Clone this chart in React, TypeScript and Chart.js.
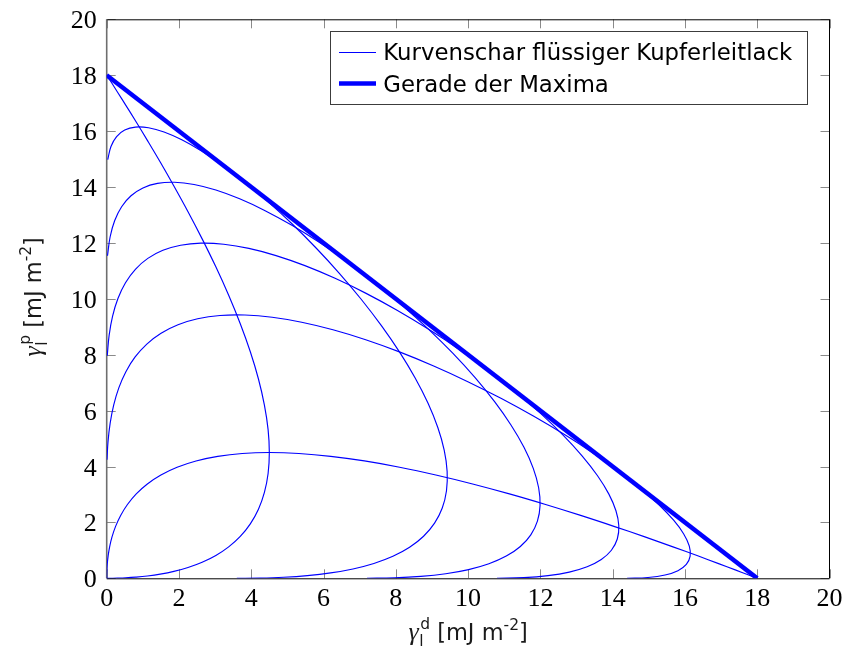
import React, { useEffect, useRef } from "react";
import { Chart, registerables } from "chart.js";

Chart.register(...registerables);

// ---- data (gamma_l^d, gamma_l^p) ----
const curveA: [number, number][] = [
  [0, 0], [0.034, 0], [0.136, 0.001], [0.301, 0.005], [0.526, 0.016], [0.804, 0.04],
  [1.125, 0.081], [1.481, 0.147], [1.859, 0.246], [2.25, 0.386], [2.641, 0.574], [3.02, 0.818],
  [3.375, 1.125], [3.696, 1.5], [3.974, 1.948], [4.199, 2.472], [4.364, 3.073], [4.466, 3.75],
  [4.5, 4.5], [4.466, 5.319], [4.364, 6.199], [4.199, 7.131], [3.974, 8.105], [3.696, 9.107],
  [3.375, 10.125], [3.02, 11.143], [2.641, 12.144], [2.25, 13.114], [1.859, 14.035],
  [1.481, 14.892], [1.125, 15.669], [0.804, 16.353], [0.526, 16.931], [0.301, 17.392],
  [0.136, 17.728], [0.034, 17.932], [0, 18],
];
const curveB: [number, number][] = [
  [3.6, 0], [4.24, 0.008], [4.895, 0.037], [5.551, 0.096], [6.196, 0.193], [6.814, 0.335],
  [7.393, 0.531], [7.919, 0.787], [8.381, 1.11], [8.768, 1.504], [9.072, 1.973], [9.285, 2.516],
  [9.402, 3.134], [9.42, 3.823], [9.34, 4.579], [9.162, 5.395], [8.892, 6.261], [8.535, 7.167],
  [8.1, 8.1], [7.596, 9.047], [7.036, 9.993], [6.431, 10.922], [5.794, 11.818], [5.141, 12.667],
  [4.484, 13.452], [3.837, 14.158], [3.213, 14.774], [2.623, 15.287], [2.078, 15.687],
  [1.587, 15.966], [1.157, 16.119], [0.793, 16.144], [0.499, 16.038], [0.274, 15.806],
  [0.118, 15.45], [0.029, 14.978],
];
const curveC: [number, number][] = [
  [7.2, 0], [7.96, 0.015], [8.692, 0.067], [9.381, 0.163], [10.013, 0.311], [10.576, 0.52],
  [11.056, 0.794], [11.446, 1.138], [11.735, 1.555], [11.918, 2.045], [11.991, 2.607],
  [11.952, 3.239], [11.803, 3.934], [11.546, 4.686], [11.186, 5.485], [10.733, 6.319],
  [10.194, 7.178], [9.582, 8.046], [8.909, 8.909], [8.189, 9.753], [7.436, 10.561],
  [6.665, 11.319], [5.89, 12.012], [5.125, 12.628], [4.384, 13.153], [3.679, 13.577],
  [3.021, 13.892], [2.418, 14.091], [1.877, 14.17], [1.405, 14.128], [1.003, 13.965],
  [0.673, 13.686], [0.413, 13.294], [0.222, 12.799], [0.094, 12.211], [0.022, 11.54],
];
const curveD: [number, number][] = [
  [0.015, 7.96], [0.067, 8.692], [0.163, 9.381], [0.311, 10.013], [0.52, 10.576], [0.794, 11.056],
  [1.138, 11.446], [1.555, 11.735], [2.045, 11.918], [2.607, 11.991], [3.239, 11.952],
  [3.934, 11.803], [4.686, 11.546], [5.485, 11.186], [6.319, 10.733], [7.178, 10.194],
  [8.046, 9.582], [8.909, 8.909], [9.753, 8.189], [10.561, 7.436], [11.319, 6.665],
  [12.012, 5.89], [12.628, 5.125], [13.153, 4.384], [13.577, 3.679], [13.892, 3.021],
  [14.091, 2.418], [14.17, 1.877], [14.128, 1.405], [13.965, 1.003], [13.686, 0.673],
  [13.294, 0.413], [12.799, 0.222], [12.211, 0.094], [11.54, 0.022], [10.8, 0],
];
const curveE: [number, number][] = [
  [0.008, 4.24], [0.037, 4.895], [0.096, 5.551], [0.193, 6.196], [0.335, 6.814], [0.531, 7.393],
  [0.787, 7.919], [1.11, 8.381], [1.504, 8.768], [1.973, 9.072], [2.516, 9.285], [3.134, 9.402],
  [3.823, 9.42], [4.579, 9.34], [5.395, 9.162], [6.261, 8.892], [7.167, 8.535], [8.1, 8.1],
  [9.047, 7.596], [9.993, 7.036], [10.922, 6.431], [11.818, 5.794], [12.667, 5.141],
  [13.452, 4.484], [14.158, 3.837], [14.774, 3.213], [15.287, 2.623], [15.687, 2.078],
  [15.966, 1.587], [16.119, 1.157], [16.144, 0.793], [16.038, 0.499], [15.806, 0.274],
  [15.45, 0.118], [14.978, 0.029], [14.4, 0],
];
const curveF: [number, number][] = [
  [0, 0], [0, 0.034], [0.001, 0.136], [0.005, 0.301], [0.016, 0.526], [0.04, 0.804],
  [0.081, 1.125], [0.147, 1.481], [0.246, 1.859], [0.386, 2.25], [0.574, 2.641], [0.818, 3.02],
  [1.125, 3.375], [1.5, 3.696], [1.948, 3.974], [2.472, 4.199], [3.073, 4.364], [3.75, 4.466],
  [4.5, 4.5], [5.319, 4.466], [6.199, 4.364], [7.131, 4.199], [8.105, 3.974], [9.107, 3.696],
  [10.125, 3.375], [11.143, 3.02], [12.144, 2.641], [13.114, 2.25], [14.035, 1.859],
  [14.892, 1.481], [15.669, 1.125], [16.353, 0.804], [16.931, 0.526], [17.392, 0.301],
  [17.728, 0.136], [17.932, 0.034], [18, 0],
];
const maximaLine: [number, number][] = [[0, 18], [18, 0]];

const xTickValues = [0, 2, 4, 6, 8, 10, 12, 14, 16, 18, 20];
const yTickValues = [0, 2, 4, 6, 8, 10, 12, 14, 16, 18, 20];
const legendLabels = ["Kurvenschar flüssiger Kupferleitlack", "Gerade der Maxima"];
const titleSymbol = "γ";
const titleSub = "l";
const xTitleSup = "d";
const yTitleSup = "p";
const unitText = " [mJ m";
const unitSup = "-2";
const unitEnd = "]";

const BLUE = "#0000ff";
const SANS = "'DejaVu Sans'";
const SERIF = "'Liberation Serif'";

type Seg = { t: string; f: string; dy: number; dx?: number; keep?: boolean };

function drawRich(ctx: CanvasRenderingContext2D, segs: Seg[], cx: number, baseline: number) {
  let total = 0;
  let pending = 0;
  const widths: number[] = [];
  for (const s of segs) {
    ctx.font = s.f;
    const w = ctx.measureText(s.t).width + (s.dx || 0);
    widths.push(w);
    if (s.keep) {
      pending = w;
    } else {
      total += Math.max(w, pending);
      pending = 0;
    }
  }
  let x = cx - total / 2;
  pending = 0;
  ctx.textAlign = "left";
  ctx.textBaseline = "alphabetic";
  segs.forEach((s, i) => {
    ctx.font = s.f;
    ctx.fillText(s.t, x + (s.dx || 0), baseline + s.dy);
    if (s.keep) {
      pending = widths[i];
    } else {
      x += Math.max(widths[i], pending);
      pending = 0;
    }
  });
}

function titleSegs(sup: string): Seg[] {
  const main = `22.5px ${SANS}`;
  const small = `15.5px ${SANS}`;
  return [
    { t: titleSymbol, f: `italic 26px ${SERIF}`, dy: 0 },
    { t: sup, f: small, dy: -11, dx: 1.5, keep: true },
    { t: titleSub, f: small, dy: 6, dx: 0.5 },
    { t: unitText, f: main, dy: 0 },
    { t: unitSup, f: small, dy: -10 },
    { t: unitEnd, f: main, dy: 0 },
  ];
}

const decor = {
  id: "decor",
  beforeDatasetsDraw(chart: any) {
    const ctx: CanvasRenderingContext2D = chart.ctx;
    const { left, right, top, bottom } = chart.chartArea;
    const xs = chart.scales.x;
    const ys = chart.scales.y;
    ctx.save();
    ctx.strokeStyle = "#8a8a8a";
    ctx.lineWidth = 1;
    const TL = 9;
    ctx.beginPath();
    xs.ticks.forEach((t: any) => {
      const px = Math.round(xs.getPixelForValue(t.value)) + 0.5;
      ctx.moveTo(px, bottom);
      ctx.lineTo(px, bottom - TL);
      ctx.moveTo(px, top);
      ctx.lineTo(px, top + TL);
    });
    ys.ticks.forEach((t: any) => {
      const py = Math.round(ys.getPixelForValue(t.value)) + 0.5;
      ctx.moveTo(left, py);
      ctx.lineTo(left + TL, py);
      ctx.moveTo(right, py);
      ctx.lineTo(right - TL, py);
    });
    ctx.stroke();
    ctx.strokeStyle = "#000";
    ctx.lineWidth = 1;
    ctx.beginPath();
    ctx.moveTo(left, top + 0.5);
    ctx.lineTo(right, top + 0.5);
    ctx.moveTo(right, top);
    ctx.lineTo(right, bottom);
    ctx.moveTo(left, bottom + 0.5);
    ctx.lineTo(right, bottom + 0.5);
    ctx.stroke();
    ctx.strokeStyle = "#6e6e6e";
    ctx.lineWidth = 1.6;
    ctx.beginPath();
    ctx.moveTo(left, top);
    ctx.lineTo(left, bottom);
    ctx.stroke();

    ctx.fillStyle = "#000";
    ctx.font = `26px ${SERIF}`;
    ctx.textBaseline = "alphabetic";
    ctx.textAlign = "center";
    xs.ticks.forEach((t: any) => {
      ctx.fillText(String(t.value), xs.getPixelForValue(t.value), bottom + 28);
    });
    ctx.textAlign = "right";
    ys.ticks.forEach((t: any) => {
      ctx.fillText(String(t.value), left - 10, ys.getPixelForValue(t.value) + 9);
    });

    ctx.fillStyle = "#1a1a1a";
    drawRich(ctx, titleSegs(xTitleSup), (left + right) / 2, 640);
    ctx.save();
    ctx.translate(41, (top + bottom) / 2 - 2);
    ctx.rotate(-Math.PI / 2);
    drawRich(ctx, titleSegs(yTitleSup), 0, 0);
    ctx.restore();
    ctx.restore();
  },
  afterDatasetsDraw(chart: any) {
    const ctx: CanvasRenderingContext2D = chart.ctx;
    ctx.save();
    const bx = 330.5, by = 31.5, bw = 477, bh = 73;
    ctx.fillStyle = "#fff";
    ctx.fillRect(bx, by, bw, bh);
    ctx.strokeStyle = "#3c3c3c";
    ctx.lineWidth = 1;
    ctx.strokeRect(bx, by, bw, bh);
    ctx.strokeStyle = BLUE;
    ctx.lineWidth = 1.1;
    ctx.beginPath();
    ctx.moveTo(339, 52.5);
    ctx.lineTo(376, 52.5);
    ctx.stroke();
    ctx.lineWidth = 4.5;
    ctx.beginPath();
    ctx.moveTo(339, 83.5);
    ctx.lineTo(376, 83.5);
    ctx.stroke();
    ctx.fillStyle = "#000";
    ctx.font = `22.8px ${SANS}`;
    ctx.textAlign = "left";
    ctx.textBaseline = "alphabetic";
    ctx.fillText(legendLabels[0], 383.3, 59.5);
    ctx.fillText(legendLabels[1], 383.3, 91.8);
    ctx.restore();
  },
};

const toPts = (arr: [number, number][]) => arr.map(([x, y]) => ({ x, y }));

export default function App() {
  const ref = useRef<HTMLCanvasElement>(null);
  useEffect(() => {
    const canvas = ref.current;
    if (!canvas) return;
    const thin = (d: [number, number][]) => ({
      data: toPts(d),
      showLine: true,
      borderColor: BLUE,
      borderWidth: 1.15,
      pointRadius: 0,
      tension: 0.4,
      fill: false,
    });
    const chart = new Chart(canvas, {
      type: "scatter",
      data: {
        datasets: [
          {
            data: toPts(maximaLine),
            showLine: true,
            borderColor: BLUE,
            borderWidth: 4.5,
            pointRadius: 0,
            tension: 0,
            fill: false,
          },
          thin(curveA),
          thin(curveB),
          thin(curveC),
          thin(curveD),
          thin(curveE),
          thin(curveF),
        ] as any,
      },
      options: {
        responsive: false,
        animation: false,
        devicePixelRatio: 1,
        events: [],
        layout: { padding: { top: 19.3, right: 14.5, left: 0, bottom: 0 } },
        plugins: { legend: { display: false }, tooltip: { enabled: false } },
        scales: {
          x: {
            type: "linear",
            min: 0,
            max: 20,
            grid: { display: false },
            border: { display: false },
            ticks: { display: false },
            afterBuildTicks: (s: any) => {
              s.ticks = xTickValues.map((v) => ({ value: v }));
            },
            afterFit: (s: any) => {
              s.height = 73.7;
            },
          },
          y: {
            type: "linear",
            min: 0,
            max: 20,
            grid: { display: false },
            border: { display: false },
            ticks: { display: false },
            afterBuildTicks: (s: any) => {
              s.ticks = yTickValues.map((v) => ({ value: v }));
            },
            afterFit: (s: any) => {
              s.width = 106.7;
            },
          },
        },
      } as any,
      plugins: [decor],
    });
    return () => chart.destroy();
  }, []);
  return (
    <div style={{ width: 844, height: 652 }}>
      <canvas
        ref={ref}
        width={844}
        height={652}
        style={{ position: "fixed", left: 0, top: 0, width: 844, height: 652 }}
      />
    </div>
  );
}
